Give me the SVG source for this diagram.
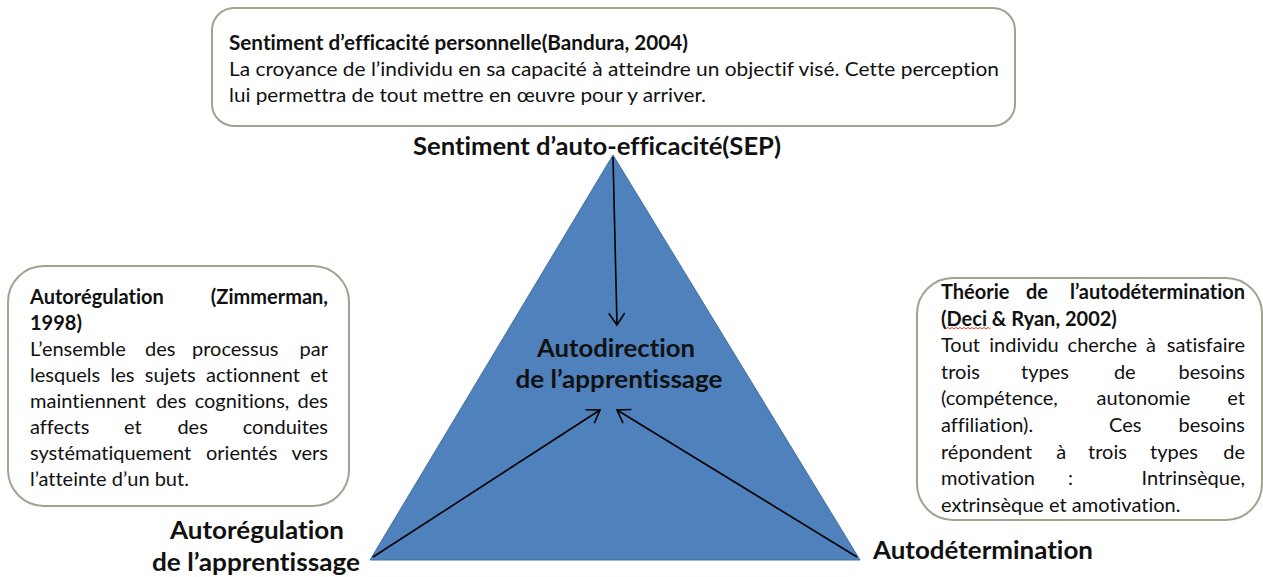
<svg xmlns="http://www.w3.org/2000/svg" width="1263" height="577" viewBox="0 0 1263 577">
  <style>
    text { font-variant-ligatures: none; font-feature-settings: "liga" 0, "dlig" 0; }
    .box { fill: #ffffff; stroke: #9ca58d; stroke-width: 2; }
    .r { font-family: Lato, "Liberation Sans", sans-serif; font-size: 20px; fill: #111111; }
    .b { font-family: Lato, "Liberation Sans", sans-serif; font-size: 20px; font-weight: bold; fill: #111111; }
    .big { font-family: Lato, "Liberation Sans", sans-serif; font-size: 25px; font-weight: bold; fill: #111111; text-anchor: middle; }
    .e { text-anchor: end; }
    .conn { stroke: #000000; stroke-width: 1.6; fill: none; marker-end: url(#arr); }
  </style>
  <defs>
    <marker id="arr" markerUnits="userSpaceOnUse" markerWidth="20" markerHeight="20" refX="13" refY="9" orient="auto">
      <path d="M1,1 L13,9 L1,17" fill="none" stroke="#000000" stroke-width="1.6"/>
    </marker>
  </defs>
  <rect width="1263" height="577" fill="#ffffff"/>

  <g id="node-triangle">
    <polygon points="613,155 370,560 860,560" fill="#4f81bd" stroke="#41709f" stroke-width="1"/>
  </g>

  <g id="node-top-box">
    <rect class="box" x="212" y="8" width="803" height="118" rx="22"/>
    <text class="b" x="229" y="50" textLength="459" lengthAdjust="spacingAndGlyphs">Sentiment d’efficacité personnelle(Bandura, 2004)</text>
    <text class="r" x="229" y="76" textLength="770" lengthAdjust="spacingAndGlyphs">La croyance de l’individu en sa capacité à atteindre un objectif visé. Cette perception</text>
    <text class="r" x="229" y="102" textLength="477" lengthAdjust="spacingAndGlyphs">lui permettra de tout mettre en œuvre pour y arriver.</text>
  </g>

  <g id="node-left-box">
    <rect class="box" x="8" y="266" width="341" height="240" rx="36"/>
    <text class="b" x="30" y="304">Autorégulation</text>
    <text class="b e" x="328" y="304">(Zimmerman,</text>
    <text class="b" x="30" y="330">1998)</text>
    <text class="r" x="30" y="356">L’ensemble</text>
    <text class="r" x="145" y="356">des</text>
    <text class="r" x="192" y="356">processus</text>
    <text class="r e" x="328" y="356">par</text>
    <text class="r" x="30" y="382">lesquels</text>
    <text class="r" x="110.5" y="382">les</text>
    <text class="r" x="144.8" y="382">sujets</text>
    <text class="r" x="206" y="382">actionnent</text>
    <text class="r e" x="328" y="382">et</text>
    <text class="r" x="30" y="408">maintiennent</text>
    <text class="r" x="155.9" y="408">des</text>
    <text class="r" x="194.7" y="408">cognitions,</text>
    <text class="r e" x="328" y="408">des</text>
    <text class="r" x="30" y="434">affects</text>
    <text class="r" x="124" y="434">et</text>
    <text class="r" x="177.4" y="434">des</text>
    <text class="r e" x="328" y="434">conduites</text>
    <text class="r" x="30" y="460">systématiquement</text>
    <text class="r" x="206" y="460">orientés</text>
    <text class="r e" x="328" y="460">vers</text>
    <text class="r" x="30" y="486">l’atteinte d’un but.</text>
  </g>

  <g id="node-right-box">
    <rect class="box" x="917" y="278" width="345" height="242" rx="36"/>
    <text class="b" x="941" y="299">Théorie</text>
    <text class="b" x="1026" y="299">de</text>
    <text class="b e" x="1245" y="299">l’autodétermination</text>
    <text class="b" x="941" y="326">(Deci &amp; Ryan, 2002)</text>
    <path d="M946,329 l2,-1.6 l2,1.6 l2,-1.6 l2,1.6 l2,-1.6 l2,1.6 l2,-1.6 l2,1.6 l2,-1.6 l2,1.6 l2,-1.6 l2,1.6 l2,-1.6 l2,1.6 l2,-1.6 l2,1.6 l2,-1.6 l2,1.6 l2,-1.6 l2,1.6 l2,-1.6 l2,1.6" fill="none" stroke="#e0413a" stroke-width="1"/>
    <text class="r" x="941" y="352">Tout</text>
    <text class="r" x="989.3" y="352">individu</text>
    <text class="r" x="1067.6" y="352">cherche</text>
    <text class="r" x="1146" y="352">à</text>
    <text class="r e" x="1245" y="352">satisfaire</text>
    <text class="r" x="941" y="379">trois</text>
    <text class="r" x="1021" y="379">types</text>
    <text class="r" x="1113.9" y="379">de</text>
    <text class="r e" x="1245" y="379">besoins</text>
    <text class="r" x="941" y="405">(compétence,</text>
    <text class="r" x="1096.5" y="405">autonomie</text>
    <text class="r e" x="1245" y="405">et</text>
    <text class="r" x="941" y="432">affiliation).</text>
    <text class="r" x="1109" y="432">Ces</text>
    <text class="r e" x="1245" y="432">besoins</text>
    <text class="r" x="941" y="459">répondent</text>
    <text class="r" x="1056.3" y="459">à</text>
    <text class="r" x="1088" y="459">trois</text>
    <text class="r" x="1150" y="459">types</text>
    <text class="r e" x="1245" y="459">de</text>
    <text class="r" x="941" y="485">motivation</text>
    <text class="r" x="1068" y="485">:</text>
    <text class="r e" x="1245" y="485">Intrinsèque,</text>
    <text class="r" x="941" y="512">extrinsèque et amotivation.</text>
  </g>

  <g id="node-sep-label">
    <text class="big" x="597" y="155" textLength="368" lengthAdjust="spacingAndGlyphs">Sentiment d’auto-efficacité(SEP)</text>
  </g>

  <g id="node-center-label">
    <text class="big" x="616" y="357" textLength="158" lengthAdjust="spacingAndGlyphs">Autodirection</text>
    <text class="big" x="619" y="388" textLength="207" lengthAdjust="spacingAndGlyphs">de l’apprentissage</text>
  </g>

  <g id="node-autoregulation-label">
    <text class="big" x="257" y="539" textLength="174" lengthAdjust="spacingAndGlyphs">Autorégulation</text>
    <text class="big" x="256" y="571" textLength="208" lengthAdjust="spacingAndGlyphs">de l’apprentissage</text>
  </g>

  <g id="node-autodetermination-label">
    <text class="big" x="983" y="559" textLength="220" lengthAdjust="spacingAndGlyphs">Autodétermination</text>
  </g>

  <g id="connectors">
    <line class="conn" x1="613" y1="157" x2="617" y2="325"/>
    <line class="conn" x1="373" y1="557" x2="600" y2="410"/>
    <line class="conn" x1="857" y1="557" x2="617" y2="410"/>
  </g>
</svg>
